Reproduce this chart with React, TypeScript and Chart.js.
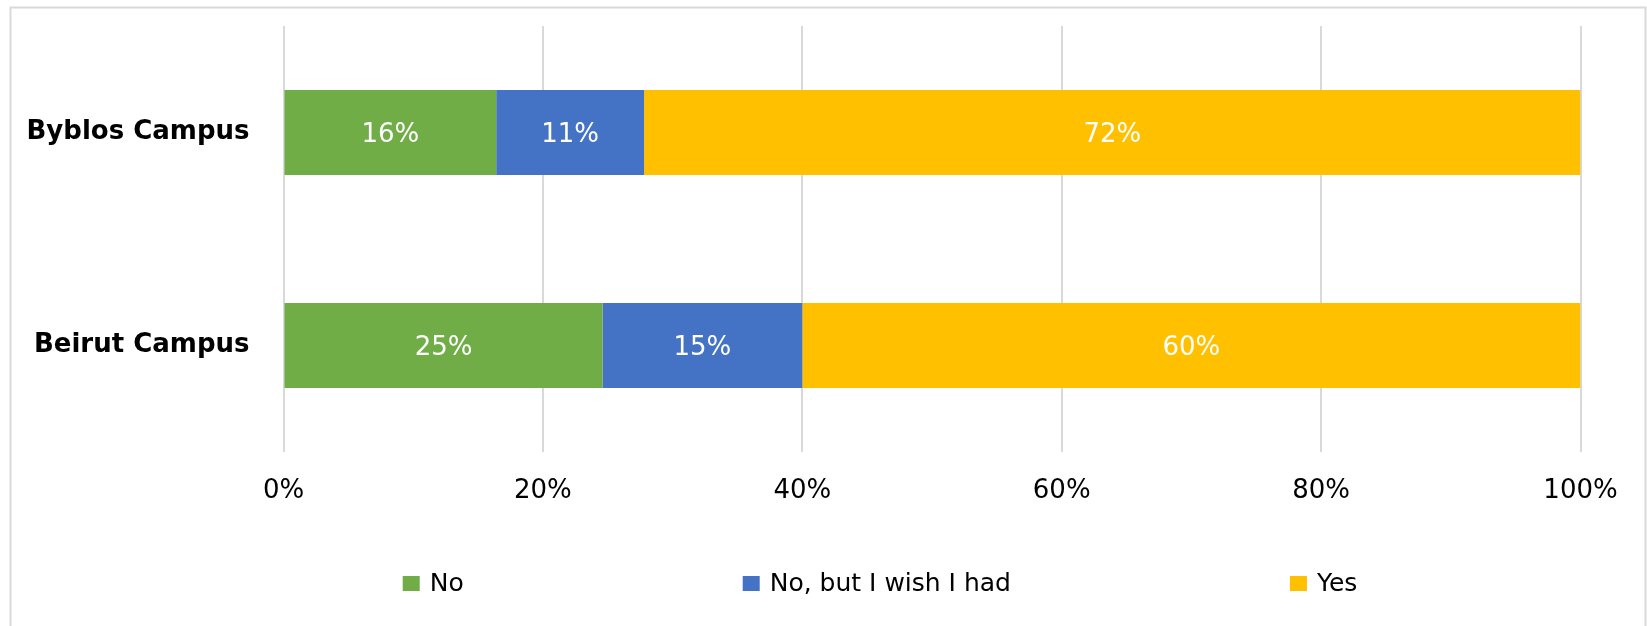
import React, { useEffect, useRef } from 'react';
import { Chart, registerables } from 'chart.js';

Chart.register(...registerables);

const categories = ['Byblos Campus', 'Beirut Campus'];
const seriesNames = ['No', 'No, but I wish I had', 'Yes'];
const seriesColors = ['#70AD47', '#4472C4', '#FFC000'];
const noValues = [16.4, 24.6];
const wishValues = [11.4, 15.4];
const yesValues = [72.2, 60.0];
const xTickValues = [0, 20, 40, 60, 80, 100];
const xTickLabels = ['0%', '20%', '40%', '60%', '80%', '100%'];

const FONT = '"DejaVu Sans", sans-serif';
const W = 1647;
const H = 626;

const framePlugin = {
  id: 'frame',
  beforeDraw(chart: any) {
    const ctx = chart.ctx;
    ctx.save();
    ctx.fillStyle = '#ffffff';
    ctx.fillRect(0, 0, chart.width, chart.height);
    ctx.strokeStyle = '#d9d9d9';
    ctx.lineWidth = 2;
    ctx.strokeRect(10.5, 7.5, 1635, 640);
    ctx.restore();
  },
};

const valueLabelPlugin = {
  id: 'valueLabels',
  afterDatasetsDraw(chart: any) {
    const ctx = chart.ctx;
    ctx.save();
    ctx.font = `26px ${FONT}`;
    ctx.fillStyle = '#ffffff';
    ctx.textAlign = 'center';
    ctx.textBaseline = 'middle';
    chart.data.datasets.forEach((ds: any, di: number) => {
      const meta = chart.getDatasetMeta(di);
      meta.data.forEach((el: any, i: number) => {
        const v = ds.data[i];
        const x = (el.x + el.base) / 2;
        ctx.fillText(Math.round(v) + '%', x, el.y + 3);
      });
    });
    ctx.restore();
  },
};

const legendPlugin = {
  id: 'wideLegend',
  afterDraw(chart: any) {
    const ctx = chart.ctx;
    const box = 17;
    const boxGap = 10;
    const itemGap = 279;
    const centerX = 880;
    const centerY = 583.5;
    ctx.save();
    ctx.font = `25px ${FONT}`;
    const items = chart.data.datasets.map((ds: any) => {
      const tw = ctx.measureText(ds.label).width;
      return { label: ds.label, color: ds.backgroundColor, w: box + boxGap + tw };
    });
    const total = items.reduce((s: number, it: any) => s + it.w, 0) + itemGap * (items.length - 1);
    let x = centerX - total / 2;
    ctx.textBaseline = 'middle';
    ctx.textAlign = 'left';
    items.forEach((it: any) => {
      ctx.fillStyle = it.color;
      ctx.fillRect(x, centerY - 7.5, box, 15);
      ctx.fillStyle = '#000000';
      ctx.fillText(it.label, x + box + boxGap, centerY + 1);
      x += it.w + itemGap;
    });
    ctx.restore();
  },
};

export default function App() {
  const canvasRef = useRef<HTMLCanvasElement | null>(null);

  useEffect(() => {
    const canvas = canvasRef.current;
    if (!canvas) return;
    const seriesData = [noValues, wishValues, yesValues];
    const chart = new Chart(canvas, {
      type: 'bar',
      data: {
        labels: categories,
        datasets: seriesNames.map((name, i) => ({
          label: name,
          data: seriesData[i],
          backgroundColor: seriesColors[i],
          borderWidth: 0,
          categoryPercentage: 0.4,
          barPercentage: 1.0,
        })),
      },
      options: {
        indexAxis: 'y',
        responsive: false,
        animation: false,
        devicePixelRatio: 1,
        layout: { padding: { top: 26, left: 0, right: 66.5, bottom: 0 } },
        plugins: {
          legend: { display: false },
          tooltip: { enabled: false },
          title: { display: false },
        },
        scales: {
          x: {
            stacked: true,
            min: 0,
            max: 100,
            afterBuildTicks(scale: any) {
              scale.ticks = xTickValues.map((v) => ({ value: v }));
            },
            afterFit(scale: any) {
              scale.height = 174;
              scale.paddingLeft = 0;
              scale.paddingRight = 0;
            },
            grid: { color: '#d9d9d9', lineWidth: 2, drawTicks: false },
            border: { display: false },
            ticks: {
              padding: 24,
              color: '#000000',
              font: { family: FONT, size: 26 },
              maxRotation: 0,
              callback: (v: any) => xTickLabels[xTickValues.indexOf(Number(v))] ?? '',
            },
          },
          y: {
            stacked: true,
            afterFit(scale: any) {
              scale.width = 283.5;
              scale.paddingTop = 0;
              scale.paddingBottom = 0;
            },
            grid: { display: false, drawTicks: false },
            border: { display: false },
            ticks: {
              padding: 34,
              color: '#000000',
              font: { family: FONT, size: 26, weight: 'bold' },
            },
          },
        },
      },
      plugins: [framePlugin, valueLabelPlugin, legendPlugin],
    } as any);
    return () => chart.destroy();
  }, []);

  return (
    <div style={{ position: 'absolute', left: 0, top: 0, width: W, height: H, background: '#fff' }}>
      <canvas ref={canvasRef} width={W} height={H} style={{ display: 'block', width: W, height: H }} />
    </div>
  );
}
